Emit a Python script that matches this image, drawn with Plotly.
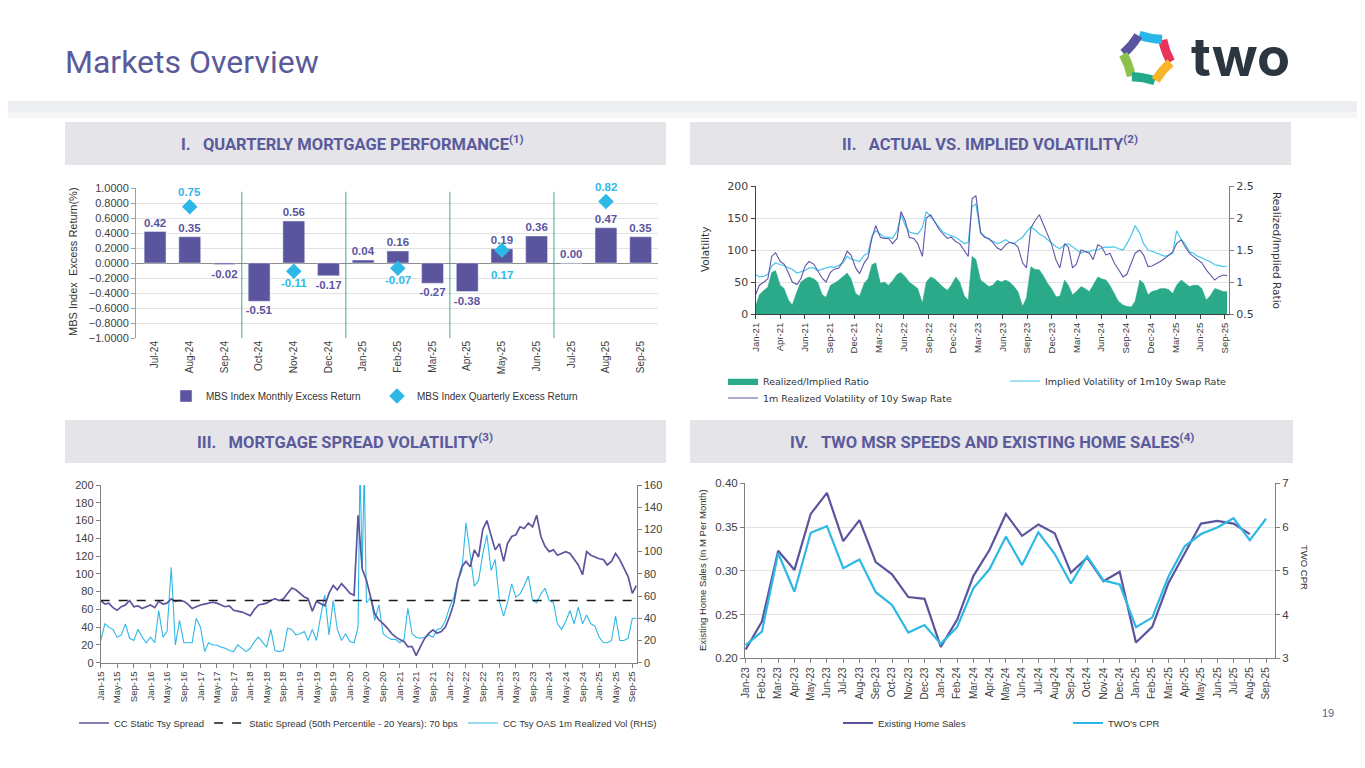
import math
import pandas as pd
import plotly.graph_objects as go

W, H = 1365, 768
OFF = 8  # the page body margin shifts the whole figure by 8px
def px(x): return (x - OFF) / W
def py(y): return 1 - (y - OFF) / H

PURPLE = "#5B559E"
CYAN = "#2EB8E6"
LCYAN = "#45C6EC"
GREEN = "#2BAA8A"
HEAD = "#5A5A9C"
TXT = "#404040"
SANS = "Liberation Sans, Arial, sans-serif"
VERD = "DejaVu Sans, Verdana, sans-serif"

# ---------------- Panel I : quarterly mortgage performance ----------------
perf_months = ["Jul-24", "Aug-24", "Sep-24", "Oct-24", "Nov-24", "Dec-24", "Jan-25", "Feb-25",
               "Mar-25", "Apr-25", "May-25", "Jun-25", "Jul-25", "Aug-25", "Sep-25"]
monthly_excess = [0.42, 0.35, -0.02, -0.51, 0.56, -0.17, 0.04, 0.16, -0.27, -0.38, 0.19, 0.36, 0.00, 0.47, 0.35]
quarter_months = ["Aug-24", "Nov-24", "Feb-25", "May-25", "Aug-25"]
quarterly_excess = [0.75, -0.11, -0.07, 0.17, 0.82]
quarter_breaks = [2.5, 5.5, 8.5, 11.5]

# ---------------- Panel II : actual vs implied volatility (semi-monthly) ----------------
vol_start, vol_end = "2021-01-01", "2025-09-15"
vol_axis_end = "2025-09-22"
realized_vol = [30, 45, 50, 55, 90, 96, 82, 78, 64, 50, 46, 55, 75, 82, 78, 69, 56, 50, 65, 70, 72, 82, 98, 92,
                72, 63, 80, 88, 118, 138, 120, 118, 118, 110, 118, 160, 145, 120, 118, 110, 90, 150, 155, 145, 132, 125, 118, 120,
                113, 110, 100, 90, 180, 185, 128, 120, 118, 112, 103, 100, 108, 112, 110, 105, 80, 72, 134, 145, 155, 140, 123, 110,
                84, 72, 110, 104, 72, 78, 100, 98, 95, 85, 108, 105, 92, 95, 79, 70, 58, 62, 79, 95, 100, 92, 74, 75,
                79, 82, 87, 92, 97, 110, 116, 105, 95, 90, 84, 80, 69, 62, 53, 58, 61, 60]
implied_vol = [62, 58, 59, 62, 75, 80, 77, 76, 72, 70, 64, 66, 68, 72, 72, 68, 70, 72, 74, 73, 76, 80, 90, 86,
               84, 82, 92, 95, 122, 130, 125, 120, 120, 118, 130, 155, 138, 128, 126, 125, 135, 160, 152, 145, 135, 128, 125, 122,
               120, 115, 110, 112, 168, 172, 126, 122, 116, 114, 110, 112, 116, 112, 110, 115, 120, 128, 136, 132, 125, 122, 116, 112,
               105, 102, 108, 110, 105, 100, 95, 98, 97, 100, 100, 103, 105, 104, 105, 102, 100, 110, 123, 138, 126, 110, 100, 98,
               95, 92, 90, 92, 95, 130, 116, 110, 97, 95, 90, 88, 84, 82, 77, 76, 74, 75]
vol_ratio = [0.62, 0.80, 0.87, 0.92, 1.15, 1.18, 0.95, 0.90, 0.72, 0.64, 0.85, 1.00, 1.05, 1.08, 1.05, 1.00, 0.80, 0.76, 0.95, 0.98, 1.03, 1.08, 1.14, 1.05,
             0.82, 0.78, 0.98, 1.05, 1.27, 1.30, 0.98, 1.00, 0.95, 1.02, 1.12, 1.15, 1.08, 1.00, 0.95, 0.90, 0.67, 1.00, 1.08, 1.05, 0.98, 0.92, 0.87, 0.95,
             1.08, 1.00, 0.78, 0.72, 1.40, 1.35, 1.03, 0.98, 0.93, 0.95, 1.03, 1.00, 1.03, 1.00, 0.93, 0.85, 0.62, 0.75, 1.24, 1.20, 1.19, 1.10, 0.98, 0.90,
             0.77, 0.78, 1.03, 0.95, 0.80, 0.85, 0.93, 0.90, 0.85, 0.95, 1.08, 1.05, 1.03, 0.95, 0.82, 0.70, 0.64, 0.62, 0.61, 0.70, 1.03, 0.98, 0.80, 0.85,
             0.87, 0.90, 0.90, 0.88, 0.82, 0.95, 1.03, 0.98, 0.93, 0.95, 0.95, 0.90, 0.72, 0.78, 0.90, 0.88, 0.85, 0.85]
vol_dates = pd.date_range(vol_start, vol_end, freq="SMS")
vol_tick_days = 90

# ---------------- Panel III : mortgage spread volatility (monthly) ----------------
static_spread = [70, 66, 67, 62, 59, 63, 65, 70, 63, 64, 61, 63,
                 65, 62, 69, 66, 67, 72, 69, 70, 69, 66, 61, 63,
                 65, 66, 67, 68, 67, 65, 63, 64, 59, 58, 57, 55,
                 53, 60, 65, 66, 67, 70, 72, 70, 72, 78, 84, 82,
                 78, 74, 72, 58, 69, 66, 64, 78, 87, 82, 89, 84,
                 78, 76, 166, 105, 93, 74, 55, 48, 44, 39, 33, 29,
                 26, 24, 18, 18, 8, 18, 27, 33, 37, 33, 35, 40,
                 52, 67, 91, 108, 114, 108, 127, 119, 150, 160, 144, 127,
                 134, 114, 134, 142, 144, 153, 151, 157, 153, 166, 142, 131,
                 125, 127, 121, 123, 125, 123, 117, 110, 99, 125, 121, 119,
                 117, 116, 110, 114, 123, 116, 106, 97, 78, 87]
spread_dates = pd.date_range("2015-01-01", "2025-10-01", freq="MS")
median_spread = 70
spread_axis_end = "2025-10-03"
oas_vol = [20, 35, 32, 30, 23, 25, 35, 22, 20, 30, 23, 18,
           23, 18, 47, 23, 28, 86, 16, 38, 18, 18, 18, 40,
           32, 10, 18, 16, 16, 14, 13, 11, 10, 16, 13, 10,
           13, 19, 23, 18, 14, 30, 11, 10, 11, 31, 30, 25,
           26, 28, 20, 30, 20, 42, 61, 25, 56, 30, 20, 26,
           19, 18,
           32, 175, 85, 175, 54, 56,
           59, 38, 52, 26, 23, 21, 21,
           18, 21, 49, 26, 23, 22, 23, 25, 23, 30, 31, 38,
           50, 59, 74, 83, 126, 95, 69, 74, 98, 115, 83, 93,
           55, 42, 54, 71, 59, 62, 69, 78, 56, 54, 62, 67,
           56, 54, 35, 30, 37, 47, 35, 50, 35, 43, 35, 33,
           23, 18, 18, 20, 42, 20, 20, 22, 40, 40]
oas_dates = (list(pd.date_range("2015-01-01", "2020-02-01", freq="MS"))
             + list(pd.date_range("2020-03-01", "2020-05-15", freq="SMS"))
             + list(pd.date_range("2020-06-01", "2025-10-01", freq="MS")))

# ---------------- Panel IV : MSR speeds and existing home sales ----------------
hs_months = ["Jan-23", "Feb-23", "Mar-23", "Apr-23", "May-23", "Jun-23", "Jul-23", "Aug-23", "Sep-23", "Oct-23",
             "Nov-23", "Dec-23", "Jan-24", "Feb-24", "Mar-24", "Apr-24", "May-24", "Jun-24", "Jul-24", "Aug-24",
             "Sep-24", "Oct-24", "Nov-24", "Dec-24", "Jan-25", "Feb-25", "Mar-25", "Apr-25", "May-25", "Jun-25",
             "Jul-25", "Aug-25", "Sep-25"]
home_sales = [0.210, 0.242, 0.323, 0.301, 0.365, 0.389, 0.334, 0.358, 0.310, 0.296, 0.270, 0.268,
              0.213, 0.244, 0.294, 0.324, 0.365, 0.340, 0.353, 0.343, 0.298, 0.315, 0.288, 0.299,
              0.218, 0.236, 0.286, 0.320, 0.354, 0.357, 0.354, 0.342]
two_cpr = [3.30, 3.61, 5.40, 4.52, 5.87, 6.02, 5.06, 5.26, 4.51, 4.22, 3.59, 3.76,
           3.33, 3.71, 4.60, 5.04, 5.78, 5.13, 5.88, 5.39, 4.71, 5.33, 4.78, 4.69,
           3.71, 3.93, 4.87, 5.56, 5.84, 5.99, 6.20, 5.70, 6.19]

fig = go.Figure()

# Panel I traces
fig.add_trace(go.Bar(
    x=perf_months, y=monthly_excess, xaxis="x", yaxis="y", legend="legend",
    name="MBS Index Monthly Excess Return", marker=dict(color=PURPLE), width=0.63,
    text=[f"{v:.2f}" for v in monthly_excess], textposition="outside", constraintext="none",
    textfont=dict(color=PURPLE, size=11.5, family=SANS, weight="bold"), cliponaxis=False))
bar_at = dict(zip(perf_months, monthly_excess))
fig.add_trace(go.Scatter(
    x=quarter_months, y=quarterly_excess, xaxis="x", yaxis="y", legend="legend",
    name="MBS Index Quarterly Excess Return", mode="markers",
    marker=dict(symbol="diamond", size=12, color=CYAN), cliponaxis=False))

# Panel II traces
fig.add_trace(go.Scatter(
    x=vol_dates, y=vol_ratio, xaxis="x2", yaxis="y2", legend="legend2", name="Realized/Implied Ratio",
    mode="lines", fill="tozeroy", fillcolor=GREEN, line=dict(color=GREEN, width=0.5)))
fig.add_trace(go.Scatter(
    x=vol_dates, y=implied_vol, xaxis="x2", yaxis="y3", legend="legend2",
    name="Implied Volatility of 1m10y Swap Rate", mode="lines", line=dict(color=LCYAN, width=1.2)))
fig.add_trace(go.Scatter(
    x=vol_dates, y=realized_vol, xaxis="x2", yaxis="y3", legend="legend5",
    name="1m Realized Volatility of 10y Swap Rate", mode="lines", line=dict(color="#5E58A6", width=1.1)))

# Panel III traces
fig.add_trace(go.Scatter(
    x=spread_dates, y=static_spread, xaxis="x3", yaxis="y5", legend="legend3",
    name="CC Static Tsy Spread", mode="lines", line=dict(color=PURPLE, width=1.7)))
fig.add_trace(go.Scatter(
    x=[spread_dates[0], spread_axis_end], y=[median_spread, median_spread], xaxis="x3", yaxis="y5",
    legend="legend3", name="Static Spread (50th Percentile - 20 Years): 70 bps", mode="lines",
    line=dict(color="#1A1A1A", width=1.3, dash="dash")))
fig.add_trace(go.Scatter(
    x=oas_dates, y=oas_vol, xaxis="x3", yaxis="y4", legend="legend3",
    name="CC Tsy OAS 1m Realized Vol (RHS)", mode="lines", line=dict(color=CYAN, width=1.1)))

# Panel IV traces
fig.add_trace(go.Scatter(
    x=hs_months[:len(home_sales)], y=home_sales, xaxis="x4", yaxis="y6", legend="legend4",
    name="Existing Home Sales", mode="lines", line=dict(color=PURPLE, width=2.2)))
fig.add_trace(go.Scatter(
    x=hs_months, y=two_cpr, xaxis="x4", yaxis="y7", legend="legend4",
    name="TWO's CPR", mode="lines", line=dict(color=CYAN, width=2.2)))

GRID = "#E2E2E2"
tick9 = dict(family=SANS, size=9.5, color=TXT)
leg = dict(xanchor="left", yanchor="middle", orientation="h", bgcolor="rgba(0,0,0,0)", itemwidth=30)

layout = dict(
    width=W, height=H, autosize=False, margin=dict(l=0, r=0, t=0, b=0, autoexpand=False),
    paper_bgcolor="white", plot_bgcolor="white", showlegend=True,
    font=dict(family=SANS, color=TXT, size=11), bargap=0.37,
    # panel I
    xaxis=dict(domain=[px(136), px(658)], anchor="y", type="category", range=[-0.55, 14.5],
               tickangle=-90, tickfont=dict(family=SANS, size=10, color=TXT), showgrid=False,
               showline=False, ticks=""),
    # category-boundary tick marks on the zero line
    xaxis5=dict(overlaying="x", anchor="free", position=py(263), type="linear", range=[-0.55, 14.5],
                tickmode="array", tickvals=[i + 0.5 for i in range(len(perf_months) - 1)],
                showticklabels=False, ticks="outside", ticklen=4, tickcolor="#8C8C8C",
                showgrid=False, showline=False, zeroline=False),
    yaxis=dict(domain=[py(338), py(188)], anchor="x", range=[-1, 1], dtick=0.2, tickformat=".4f",
               showgrid=True, gridcolor=GRID, zeroline=True, zerolinecolor="#8C8C8C", zerolinewidth=1.2,
               showline=True, linecolor="#A0A0A0", ticks="outside", ticklen=4, tickcolor="#A0A0A0",
               tickfont=dict(family=SANS, size=11, color=TXT)),
    # panel II
    xaxis2=dict(domain=[px(755.5), px(1229)], anchor="y2", type="date", range=[vol_start, vol_axis_end],
                dtick=vol_tick_days * 86400000, tick0=vol_start, tickformat="%b-%y", tickangle=-90,
                tickfont=dict(family=SANS, size=9.5, color=TXT), showgrid=False, showline=True,
                linecolor="#404040", ticks="outside", ticklen=4, tickcolor="#404040"),
    yaxis2=dict(domain=[py(314), py(186)], anchor="x2", side="right", range=[0.5, 2.5], dtick=0.5,
                showgrid=True, gridcolor=GRID, zeroline=False, showline=True, linecolor="#808080",
                ticks="outside", ticklen=4, tickcolor="#808080",
                tickfont=dict(family=VERD, size=11, color=TXT)),
    yaxis3=dict(overlaying="y2", anchor="x2", side="left", range=[0, 200], dtick=50, showgrid=False,
                zeroline=False, showline=True, linecolor="#404040", ticks="outside", ticklen=4,
                tickcolor="#404040", tickfont=dict(family=VERD, size=11, color=TXT)),
    # panel III
    xaxis3=dict(domain=[px(100.7), px(636.7)], anchor="y4", type="date",
                range=[spread_dates[0], spread_axis_end], dtick="M4", tick0="2015-01-01",
                tickformat="%b-%y", tickangle=-90, tickfont=tick9, showgrid=False, showline=True,
                linecolor="#808080", ticks="outside", ticklen=4, tickcolor="#808080"),
    yaxis4=dict(domain=[py(662.7), py(485)], anchor="x3", side="right", range=[0, 160], dtick=20,
                showgrid=False, zeroline=False, showline=True, linecolor="#808080", ticks="outside",
                ticklen=4, tickcolor="#808080", tickfont=dict(family=SANS, size=11, color=TXT)),
    yaxis5=dict(overlaying="y4", anchor="x3", side="left", range=[0, 200], dtick=20, showgrid=False,
                zeroline=False, showline=True, linecolor="#808080", ticks="outside", ticklen=4,
                tickcolor="#808080", tickfont=dict(family=SANS, size=11, color=TXT)),
    # panel IV
    xaxis4=dict(domain=[px(745), px(1275)], anchor="y6", type="category", range=[-0.04, 32.55],
                tickmode="array", tickvals=hs_months, ticktext=hs_months,
                tickangle=-90, tickfont=dict(family=SANS, size=10, color=TXT), showgrid=False,
                showline=True, linecolor="#808080", ticks="outside", ticklen=4, tickcolor="#808080"),
    yaxis6=dict(domain=[py(658.3), py(483.3)], anchor="x4", range=[0.2, 0.4], dtick=0.05,
                tickformat=".2f", showgrid=True, gridcolor=GRID, zeroline=False, showline=True,
                linecolor="#808080", ticks="outside", ticklen=4, tickcolor="#808080",
                tickfont=dict(family=SANS, size=11.5, color=TXT)),
    yaxis7=dict(overlaying="y6", anchor="x4", side="right", range=[3, 7], dtick=1, showgrid=False,
                zeroline=False, showline=True, linecolor="#808080", ticks="outside", ticklen=4,
                tickcolor="#808080", tickfont=dict(family=SANS, size=11.5, color=TXT)),
    legend=dict(x=px(166), y=py(396), font=dict(family=SANS, size=10, color="#333"), entrywidth=166, **leg),
    legend2=dict(x=px(723), y=py(381), font=dict(family=VERD, size=9.5, color="#333"), entrywidth=237, **leg),
    legend5=dict(x=px(723), y=py(398), font=dict(family=VERD, size=9.5, color="#333"), **leg),
    legend3=dict(x=px(74), y=py(723), font=dict(family=SANS, size=9.5, color="#333"), **leg),
    legend4=dict(x=px(838), y=py(723), font=dict(family=SANS, size=9.5, color="#333"), entrywidth=185, **leg),
)
fig.update_layout(**layout)

shapes = []
# header shadow band
shapes.append(dict(type="rect", xref="paper", yref="paper", x0=0, x1=1, y0=py(112), y1=py(101),
                   fillcolor="#ECEEF1", line=dict(width=0), layer="below"))
shapes.append(dict(type="rect", xref="paper", yref="paper", x0=0, x1=1, y0=py(118), y1=py(112),
                   fillcolor="#F5F6F8", line=dict(width=0), layer="below"))
# section header boxes
for (x0, x1, y0, y1) in [(65, 666, 122, 165), (690, 1291, 122, 165), (65, 666, 420, 463), (690, 1293, 420, 463)]:
    shapes.append(dict(type="rect", xref="paper", yref="paper", x0=px(x0), x1=px(x1), y0=py(y1), y1=py(y0),
                       fillcolor="#E4E4E9", line=dict(width=0), layer="below"))
# quarter separators in panel I
for b in quarter_breaks:
    shapes.append(dict(type="line", xref="x", yref="y", x0=b, x1=b, y0=-1.07, y1=0.95,
                       line=dict(color="#3DAA8C", width=1)))
# logo mark
cx, cy, r = 1147, 58, 24
for a0, a1, col in [(-10, 50, "#E8335A"), (50, 110, "#29B6E8"), (110, 170, "#5B55A0"),
                    (170, 230, "#8DC14B"), (230, 290, "#22A98B"), (290, 350, "#F7B52A")]:
    t0, t1 = math.radians(a0 + 1), math.radians(a1 - 1)
    tm = (t0 + t1) / 2
    x0, y0 = cx + r * math.cos(t0), cy - r * math.sin(t0)
    x1, y1 = cx + r * math.cos(t1), cy - r * math.sin(t1)
    xc, yc = cx + 0.8 * r * math.cos(tm), cy - 0.8 * r * math.sin(tm)
    shapes.append(dict(type="path", xref="paper", yref="paper",
                       path=f"M {px(x0)},{py(y0)} Q {px(xc)},{py(yc)} {px(x1)},{py(y1)}",
                       line=dict(color=col, width=9)))
fig.update_layout(shapes=shapes)

ann = []
def note(text, x, y, size, color=TXT, family=SANS, angle=0, xanchor="center", yanchor="middle", weight="normal"):
    ann.append(dict(text=text, x=px(x), y=py(y), xref="paper", yref="paper", showarrow=False,
                    xanchor=xanchor, yanchor=yanchor, textangle=angle,
                    font=dict(size=size, color=color, family=family, weight=weight)))

# quarterly excess return labels (data-anchored)
for m, q in zip(quarter_months, quarterly_excess):
    above = q > bar_at[m]
    ann.append(dict(text=f"{q:.2f}", x=m, y=(q if above else min(q, 0)), xref="x", yref="y",
                    showarrow=False, yanchor="bottom" if above else "top", yshift=7 if above else -4,
                    font=dict(size=11.5, color=CYAN, family=SANS, weight="bold")))

note("Markets Overview", 63, 62, 32, HEAD, "Roboto, Liberation Sans, sans-serif", xanchor="left")
note("two", 1240, 56, 54, "#2B3641", "Inter, Lato, sans-serif", weight=700)
HF = "Roboto, Liberation Sans, sans-serif"
note("I.&nbsp;&nbsp;&nbsp;QUARTERLY MORTGAGE PERFORMANCE<sup>(1)</sup>", 352, 143, 16.5, HEAD, HF, weight=700)
note("II.&nbsp;&nbsp;&nbsp;ACTUAL VS. IMPLIED VOLATILITY<sup>(2)</sup>", 990, 143, 16.5, HEAD, HF, weight=700)
note("III.&nbsp;&nbsp;&nbsp;MORTGAGE SPREAD VOLATILITY<sup>(3)</sup>", 345, 441, 16.5, HEAD, HF, weight=700)
note("IV.&nbsp;&nbsp;&nbsp;TWO MSR SPEEDS AND EXISTING HOME SALES<sup>(4)</sup>", 992, 441, 16.5, HEAD, HF, weight=700)
note("MBS Index  Excess Return(%)", 73, 262, 11, "#333", SANS, angle=-90)
note("Volatility", 705, 250, 10.5, "#333", VERD, angle=-90)
note("Realized/Implied Ratio", 1277, 250, 10.5, "#333", VERD, angle=90)
note("Existing Home Sales (In M Per Month)", 702, 570, 9.5, "#333", SANS, angle=-90)
note("TWO CPR", 1305, 567, 9.5, "#333", SANS, angle=90)
note("19", 1328, 713, 11, HEAD, SANS)
fig.update_layout(annotations=ann)

fig.write_html("out.html")
